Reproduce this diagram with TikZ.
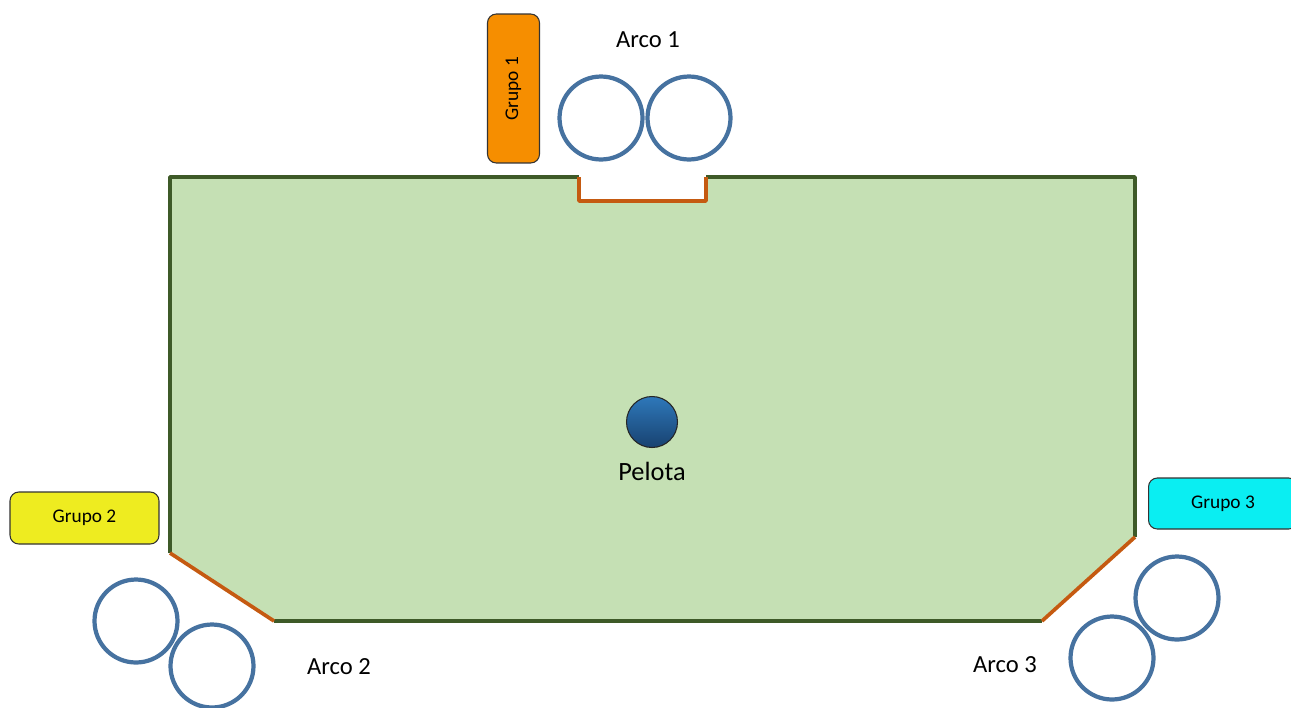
\documentclass[tikz,border=0pt]{standalone}
\usepackage{fontspec}
\setmainfont{Carlito}
\usepackage{tikz}
\usetikzlibrary{positioning,calc}
\usepackage{xcolor}
\definecolor{pasto}{RGB}{197,224,180}
\definecolor{borde}{RGB}{62,90,40}
\definecolor{meta}{RGB}{197,90,17}
\definecolor{aro}{RGB}{70,114,160}
\definecolor{grpA}{RGB}{246,142,0}
\definecolor{grpB}{RGB}{238,236,32}
\definecolor{grpC}{RGB}{10,238,242}
\tikzset{
  hoop/.style={circle,draw=aro,line width=2.4pt,minimum size=1.66cm,inner sep=0pt},
  grp/.style={draw=black!80,rounded corners=5pt,line width=0.6pt,font=\fontsize{11}{13}\selectfont,
    minimum width=2.98cm,minimum height=1.04cm,inner sep=0pt},
  lbl/.style={font=\fontsize{14}{16}\selectfont,inner sep=0pt},
  ball/.style={circle,draw=black!85,line width=0.6pt,minimum size=1.02cm,inner sep=0pt,
    top color={rgb,255:red,46;green,120;blue,186},bottom color={rgb,255:red,24;green,66;blue,112}},
  linea/.style={line width=2.1pt,line join=round},
}

\begin{document}
\begin{tikzpicture}[x=0.02cm,y=-0.02cm]
\useasboundingbox (0,0) rectangle (1291,707);
% field corners
\coordinate (tl) at (170,177);
\coordinate (bl) at (170,553);
\coordinate (bl2) at (274,621);
\coordinate (br2) at (1042,621);
\coordinate (br) at (1135,537);
\coordinate (tr) at (1135,177);
\coordinate (n1) at (579,177);
\coordinate (n2) at (579,201);
\coordinate (n3) at (706,201);
\coordinate (n4) at (706,177);
\fill[pasto] (tl) -- (bl) -- (bl2) -- (br2) -- (br) -- (tr) -- (n4) -- (n3) -- (n2) -- (n1) -- cycle;
\draw[linea,borde] (n1) -- (tl) -- (bl);
\draw[linea,borde] (bl2) -- (br2);
\draw[linea,borde] (br) -- (tr) -- (n4);
\draw[linea,meta] (n1) -- (n2) -- (n3) -- (n4);
\draw[linea,meta] (bl) -- (bl2);
\draw[linea,meta] (br2) -- (br);

% groups
\node[grp,fill=grpA,rotate=90] (grupo1) at (513.5,88.5) {Grupo 1};
\node[grp,fill=grpB] (grupo2) at (84.5,518) {Grupo 2};
\node[grp,fill=grpC,minimum height=1.02cm] (grupo3) at (1223,503.5) {Grupo 3};

% hoops
\node[hoop] (a1l) at (601,118) {};
\node[hoop] (a1r) at (689,118) {};
\node[hoop] (a2a) at (136,621) {};
\node[hoop] (a2b) at (212,666) {};
\node[hoop] (a3a) at (1177,598) {};
\node[hoop] (a3b) at (1112,658) {};
\node[lbl] (arco1) at (648,40) {Arco 1};
\node[lbl] (arco2) at (339,667) {Arco 2};
\node[lbl] (arco3) at (1005,665) {Arco 3};

% ball
\node[ball] (pelota) at (652,422) {};
\node[lbl,font=\fontsize{15}{17}\selectfont,below=0.28cm of pelota] (peltxt) {Pelota};
\end{tikzpicture}
\end{document}
